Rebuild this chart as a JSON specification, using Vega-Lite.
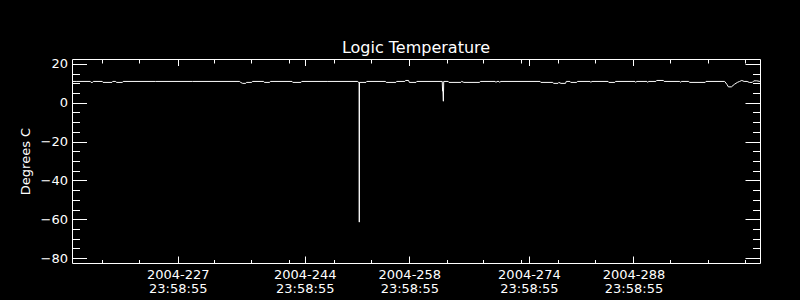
{
  "$schema": "https://vega.github.io/schema/vega-lite/v6.json",
  "width": 688,
  "height": 204,
  "autosize": {"type": "none"},
  "padding": {"left": 72, "top": 59, "right": 40, "bottom": 37},
  "background": "black",
  "config": {
    "view": {"stroke": null},
    "font": "DejaVu Sans",
    "axis": {
      "grid": false,
      "domainColor": "white",
      "domainWidth": 1,
      "tickColor": "white",
      "tickWidth": 1,
      "labelColor": "white",
      "labelFont": "DejaVu Sans",
      "labelFontSize": 13,
      "labelFlush": false,
      "labelOverlap": false,
      "labelBound": false,
      "titleColor": "white",
      "titleFont": "DejaVu Sans",
      "titleFontWeight": "normal",
      "titleFontSize": 13
    }
  },
  "title": {
    "text": "Logic Temperature",
    "color": "white",
    "font": "DejaVu Sans",
    "fontSize": 16,
    "fontWeight": "normal",
    "anchor": "middle",
    "baseline": "alphabetic",
    "offset": -11
  },
  "data": {
    "values": [
      {"day": 213.86, "temp": 11.0},
      {"day": 214.5, "temp": 11.0},
      {"day": 216.3, "temp": 11.0},
      {"day": 216.4, "temp": 10.5},
      {"day": 216.6, "temp": 10.5},
      {"day": 216.7, "temp": 11.0},
      {"day": 217.9, "temp": 11.0},
      {"day": 218.0, "temp": 10.5},
      {"day": 219.2, "temp": 10.5},
      {"day": 219.3, "temp": 11.0},
      {"day": 219.7, "temp": 11.0},
      {"day": 219.8, "temp": 10.5},
      {"day": 220.6, "temp": 10.5},
      {"day": 220.7, "temp": 11.0},
      {"day": 225.0, "temp": 11.0},
      {"day": 230.0, "temp": 11.0},
      {"day": 236.3, "temp": 11.0},
      {"day": 236.4, "temp": 10.5},
      {"day": 236.7, "temp": 10.0},
      {"day": 237.1, "temp": 10.0},
      {"day": 237.2, "temp": 10.5},
      {"day": 237.9, "temp": 10.5},
      {"day": 238.0, "temp": 11.0},
      {"day": 239.5, "temp": 11.0},
      {"day": 239.6, "temp": 10.5},
      {"day": 240.3, "temp": 10.5},
      {"day": 240.4, "temp": 11.0},
      {"day": 243.3, "temp": 11.0},
      {"day": 243.4, "temp": 10.5},
      {"day": 244.5, "temp": 10.5},
      {"day": 244.6, "temp": 11.0},
      {"day": 248.0, "temp": 11.0},
      {"day": 252.1, "temp": 11.0},
      {"day": 252.2, "temp": 10.5},
      {"day": 252.28, "temp": 10.5},
      {"day": 252.3, "temp": -61.5},
      {"day": 252.32, "temp": 10.5},
      {"day": 253.2, "temp": 10.5},
      {"day": 253.3, "temp": 11.0},
      {"day": 255.8, "temp": 11.0},
      {"day": 255.9, "temp": 10.5},
      {"day": 257.2, "temp": 10.5},
      {"day": 257.3, "temp": 11.0},
      {"day": 258.4, "temp": 11.0},
      {"day": 258.5, "temp": 11.5},
      {"day": 258.9, "temp": 11.5},
      {"day": 259.0, "temp": 10.5},
      {"day": 259.9, "temp": 10.5},
      {"day": 260.0, "temp": 11.0},
      {"day": 263.4, "temp": 11.0},
      {"day": 263.45, "temp": 6.0},
      {"day": 263.5, "temp": 6.0},
      {"day": 263.55, "temp": 0.8},
      {"day": 263.6, "temp": 11.0},
      {"day": 264.2, "temp": 11.0},
      {"day": 264.3, "temp": 10.5},
      {"day": 265.9, "temp": 10.5},
      {"day": 266.0, "temp": 11.0},
      {"day": 266.3, "temp": 10.5},
      {"day": 268.4, "temp": 10.5},
      {"day": 268.5, "temp": 11.0},
      {"day": 270.5, "temp": 11.0},
      {"day": 270.6, "temp": 10.5},
      {"day": 270.7, "temp": 11.0},
      {"day": 271.0, "temp": 11.0},
      {"day": 271.1, "temp": 10.5},
      {"day": 271.2, "temp": 11.0},
      {"day": 276.5, "temp": 11.0},
      {"day": 276.6, "temp": 10.5},
      {"day": 278.2, "temp": 10.5},
      {"day": 278.3, "temp": 10.0},
      {"day": 278.9, "temp": 10.0},
      {"day": 279.0, "temp": 10.5},
      {"day": 279.3, "temp": 10.0},
      {"day": 279.9, "temp": 10.0},
      {"day": 280.0, "temp": 11.0},
      {"day": 280.5, "temp": 11.0},
      {"day": 280.6, "temp": 10.5},
      {"day": 281.4, "temp": 10.5},
      {"day": 281.5, "temp": 11.0},
      {"day": 283.2, "temp": 11.0},
      {"day": 283.3, "temp": 10.5},
      {"day": 283.4, "temp": 11.0},
      {"day": 285.6, "temp": 11.0},
      {"day": 285.7, "temp": 10.5},
      {"day": 286.5, "temp": 10.5},
      {"day": 286.6, "temp": 11.0},
      {"day": 289.2, "temp": 11.0},
      {"day": 289.3, "temp": 10.5},
      {"day": 289.4, "temp": 11.0},
      {"day": 290.8, "temp": 11.0},
      {"day": 290.9, "temp": 10.5},
      {"day": 291.0, "temp": 11.0},
      {"day": 292.0, "temp": 11.0},
      {"day": 292.1, "temp": 11.5},
      {"day": 293.0, "temp": 11.5},
      {"day": 293.1, "temp": 11.0},
      {"day": 295.2, "temp": 11.0},
      {"day": 295.3, "temp": 10.5},
      {"day": 295.4, "temp": 11.0},
      {"day": 296.4, "temp": 11.0},
      {"day": 296.5, "temp": 10.5},
      {"day": 298.6, "temp": 10.5},
      {"day": 298.7, "temp": 11.0},
      {"day": 301.2, "temp": 11.0},
      {"day": 301.5, "temp": 9.5},
      {"day": 301.7, "temp": 8.2},
      {"day": 302.1, "temp": 8.2},
      {"day": 302.5, "temp": 9.5},
      {"day": 302.9, "temp": 10.5},
      {"day": 303.2, "temp": 11.0},
      {"day": 303.5, "temp": 11.5},
      {"day": 303.8, "temp": 11.0},
      {"day": 304.2, "temp": 11.0},
      {"day": 304.5, "temp": 10.5},
      {"day": 304.9, "temp": 10.5},
      {"day": 305.1, "temp": 11.3},
      {"day": 305.5, "temp": 11.3},
      {"day": 305.92, "temp": 11.0}
    ]
  },
  "layer": [
    {
      "mark": {"type": "line", "color": "white", "strokeWidth": 1, "clip": true},
      "encoding": {
        "x": {
          "field": "day",
          "type": "quantitative",
          "scale": {"domain": [213.85, 305.93], "nice": false, "zero": false},
          "axis": {
            "orient": "bottom",
            "title": null,
            "values": [217.91, 222.86, 227.9993, 232.9, 237.85, 242.93, 244.9993, 248.95, 253.9, 258.9993, 263.99, 268.9, 273.97, 274.9993, 278.92, 283.87, 288.9993, 293.9, 298.98, 303.98],
            "tickSize": {"condition": {"test": "datum.value % 1 > 0.999", "value": -7}, "value": -3.5},
            "labelPadding": 12,
            "labelLineHeight": 14.5,
            "labelExpr": "datum.value % 1 > 0.999 ? ['2004-' + floor(datum.value), '23:58:55'] : ''"
          }
        },
        "y": {
          "field": "temp",
          "type": "quantitative",
          "scale": {"domain": [-82.56, 22.56], "nice": false, "zero": false},
          "axis": {
            "orient": "left",
            "title": "Degrees C",
            "titleAngle": -90,
            "titleX": -42.5,
            "titleY": 102,
            "titleAlign": "center",
            "titleBaseline": "alphabetic",
            "values": [-80, -75, -70, -65, -60, -55, -50, -45, -40, -35, -30, -25, -20, -15, -10, -5, 0, 5, 10, 15, 20],
            "tickSize": {"condition": {"test": "datum.value % 20 === 0", "value": -14.5}, "value": -7.5},
            "labelPadding": 19,
            "labelExpr": "datum.value % 20 === 0 ? datum.label : ''"
          }
        }
      }
    },
    {
      "mark": {"type": "line", "color": "white", "strokeWidth": 1, "strokeOpacity": 0, "clip": true},
      "encoding": {
        "x": {
          "field": "day",
          "type": "quantitative",
          "scale": {"domain": [213.85, 305.93], "nice": false, "zero": false},
          "axis": {
            "orient": "top",
            "title": null,
            "labels": false,
            "values": [217.91, 222.86, 227.9993, 232.9, 237.85, 242.93, 244.9993, 248.95, 253.9, 258.9993, 263.99, 268.9, 273.97, 274.9993, 278.92, 283.87, 288.9993, 293.9, 298.98, 303.98],
            "tickSize": {"condition": {"test": "datum.value % 1 > 0.999", "value": -6.5}, "value": -4}
          }
        },
        "y": {
          "field": "temp",
          "type": "quantitative",
          "scale": {"domain": [-82.56, 22.56], "nice": false, "zero": false},
          "axis": {
            "orient": "right",
            "title": null,
            "labels": false,
            "values": [-80, -75, -70, -65, -60, -55, -50, -45, -40, -35, -30, -25, -20, -15, -10, -5, 0, 5, 10, 15, 20],
            "tickSize": {"condition": {"test": "datum.value % 20 === 0", "value": -15}, "value": -7.5}
          }
        }
      }
    }
  ],
  "resolve": {"axis": {"x": "independent", "y": "independent"}}
}
